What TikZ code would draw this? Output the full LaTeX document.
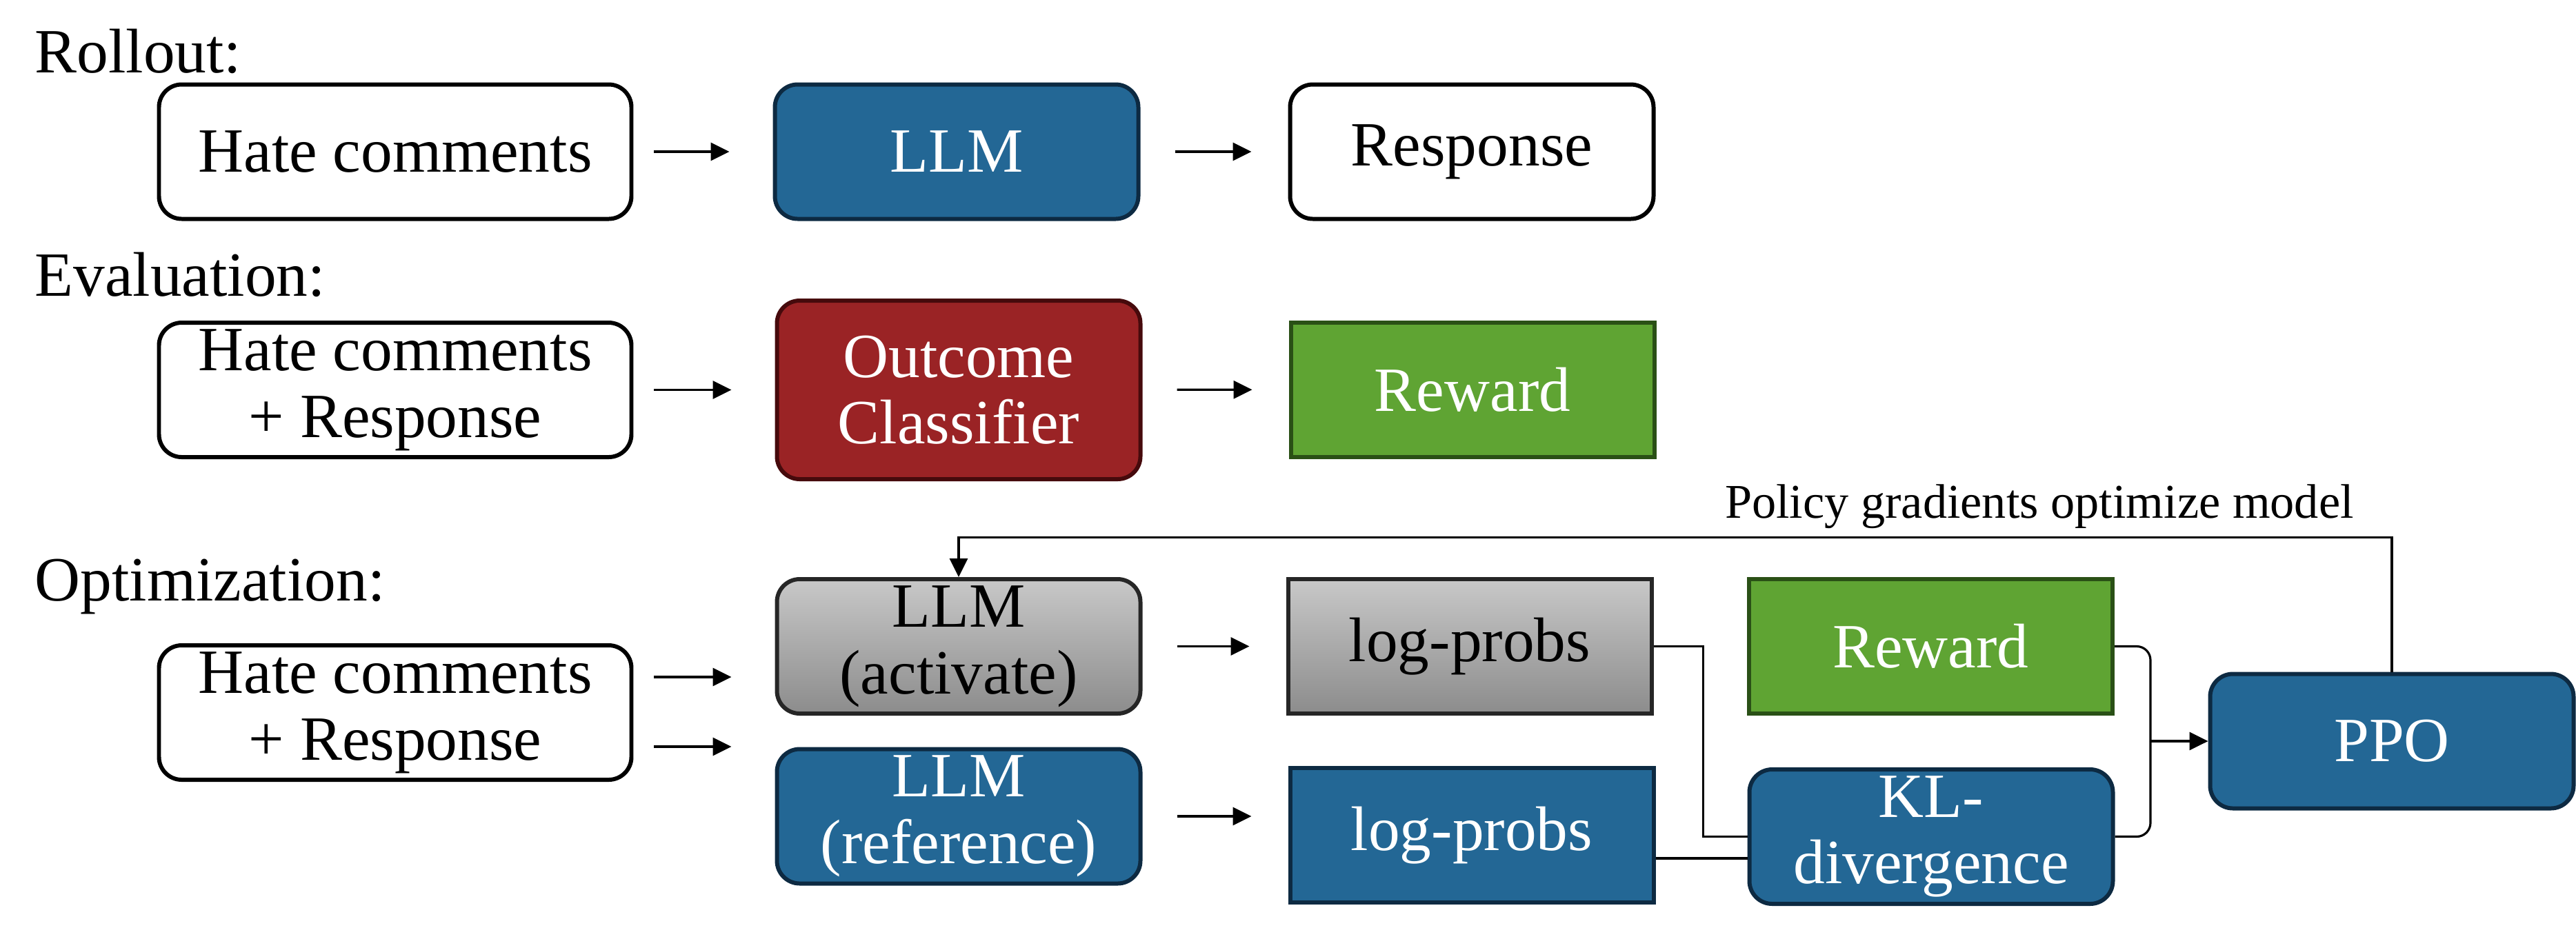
\documentclass[tikz,border=0pt]{standalone}
\usepackage{fontspec}
\setmainfont{Liberation Serif}
\usepackage{xcolor}
\usetikzlibrary{arrows.meta, calc, positioning}
\definecolor{llmblue}{RGB}{35,103,149}
\definecolor{llmedge}{RGB}{13,42,66}
\definecolor{clfred}{RGB}{154,35,37}
\definecolor{clfedge}{RGB}{70,10,12}
\definecolor{rewgreen}{RGB}{95,164,51}
\definecolor{rewedge}{RGB}{42,80,22}
\definecolor{graytop}{RGB}{200,200,200}
\definecolor{graybot}{RGB}{140,140,140}

\begin{document}
\begin{tikzpicture}[>={Triangle[length=2.7mm, width=2.6mm]},
    blockbox/.style={draw, line width=1.7pt, fill=white, minimum width=5.27cm, minimum height=1.95cm,
        align=center, inner sep=2pt, font=\fontsize{26}{27.5}\selectfont},
    rbox/.style={blockbox, rounded corners=3.3mm},
    inbox/.style={rbox, minimum width=6.85cm},
    bluebox/.style={draw=llmedge, fill=llmblue, text=white},
    redbox/.style={draw=clfedge, fill=clfred, text=white},
    greenbox/.style={draw=rewedge, fill=rewgreen, text=white},
    graybox/.style={draw=black!85, top color=graytop, bottom color=graybot},
    stage/.style={anchor=base west, inner sep=0pt, font=\fontsize{26}{27.5}\selectfont},
    conn/.style={line width=0.9pt},
    arrin/.style={conn, ->, shorten <=3mm, shorten >=6.3mm},
    arrmid/.style={conn, ->, shorten <=5mm, shorten >=5.3mm}]
    \useasboundingbox (0,0) rectangle (37.35,-13.61);

    % Rollout
    \node[stage] (rolltxt) at (0.5,-1.05) {Rollout:};
    \node[inbox] (hate1) at (5.73,-2.2) {Hate comments};
    \node[rbox, bluebox] (llm1) at (13.87,-2.2) {LLM};
    \node[rbox] (resp1) at (21.34,-2.2) {Response};
    \draw[arrin] (hate1) -- (llm1);
    \draw[arrmid] (llm1) -- (resp1);

    % Evaluation
    \node[stage] (evaltxt) at (0.5,-4.29) {Evaluation:};
    \node[inbox] (hate2) at (5.73,-5.655) {Hate comments\\+ Response};
    \node[rbox, redbox, minimum height=2.59cm] (clf) at (13.9,-5.655) {Outcome\\Classifier};
    \node[blockbox, greenbox] (rew2) at (21.35,-5.65) {Reward};
    \draw[arrin] (hate2) -- (clf);
    \draw[arrmid] (clf) -- (rew2);

    % Optimization
    \node[stage] (opttxt) at (0.5,-8.71) {Optimization:};
    \node[inbox] (hate3) at (5.73,-10.335) {Hate comments\\+ Response};
    \node[rbox, graybox] (llmA) at (13.9,-9.375) {LLM\\(activate)};
    \node[rbox, bluebox] (llmR) at (13.9,-11.84) {LLM\\(reference)};
    \node[blockbox, graybox] (lpA) at (21.31,-9.375) {log-probs};
    \node[blockbox, bluebox] (lpR) at (21.34,-12.115) {log-probs};
    \node[blockbox, greenbox] (rew3) at (27.995,-9.375) {Reward};
    \node[rbox, bluebox] (kl) at (28.0,-12.135) {KL-\\divergence};
    \node[rbox, bluebox] (ppo) at (34.68,-10.75) {PPO};

    \draw[arrin] ($(hate3.east)+(0,0.515)$) -- ($(hate3.east -| llmA.west)+(0,0.515)$);
    \draw[arrin] ($(hate3.east)+(0,-0.495)$) -- ($(hate3.east -| llmR.west)+(0,-0.495)$);
    \draw[arrmid] (llmA) -- (lpA);
    \draw[arrmid] (llmR.east) -- (llmR.east -| lpR.west);

    % log-probs into KL
    \draw[conn] (lpA.east) -- ++(0.72,0) |- (kl.west);
    \draw[conn] ($(lpR.east)+(0,-0.335)$) -- ($(lpR.east -| kl.west)+(0,-0.335)$);

    % Reward and KL into PPO
    \coordinate (join) at (31.18,-10.75);
    \draw[conn, rounded corners=2mm] (rew3.east) -| (join);
    \draw[conn, rounded corners=2mm] (kl.east) -| (join);
    \draw[conn, ->] (join) -- (ppo.west);

    % Update loop
    \draw[conn, ->] (ppo.north) -- ++(0,1.95) -| node[pos=0.123, above, font=\fontsize{20}{22}\selectfont] (pglabel) {Policy gradients optimize model} (llmA.north);
\end{tikzpicture}
\end{document}
